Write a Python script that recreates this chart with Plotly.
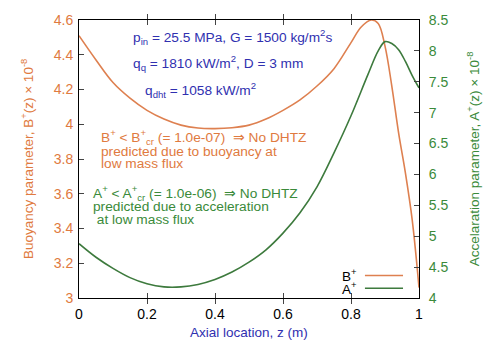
import plotly.graph_objects as go

# Data
z_b = [0, 0.05, 0.1, 0.15, 0.2, 0.25, 0.3, 0.35, 0.4, 0.45, 0.5, 0.55, 0.6, 0.65,
       0.7, 0.75, 0.8, 0.83, 0.86, 0.88, 0.9, 0.92, 0.94, 0.96, 0.98, 1.0]
b_plus = [4.51, 4.37, 4.24, 4.15, 4.08, 4.03, 3.995, 3.978, 3.975, 3.98, 3.995, 4.03,
          4.08, 4.14, 4.22, 4.32, 4.47, 4.56, 4.60, 4.58, 4.45, 4.22, 3.95, 3.72, 3.45, 3.06]

z_a = [0, 0.05, 0.1, 0.15, 0.2, 0.25, 0.3, 0.35, 0.4, 0.45, 0.5, 0.55, 0.6, 0.65,
       0.7, 0.75, 0.8, 0.85, 0.88, 0.9, 0.92, 0.94, 0.96, 0.98, 1.0]
a_plus = [4.88, 4.66, 4.48, 4.33, 4.23, 4.18, 4.18, 4.22, 4.30, 4.42, 4.58, 4.78, 5.05,
          5.38, 5.8, 6.35, 6.95, 7.62, 8.0, 8.15, 8.12, 8.02, 7.83, 7.6, 7.4]

x_ticks = [0, 0.2, 0.4, 0.6, 0.8, 1]
b_ticks = [3, 3.2, 3.4, 3.6, 3.8, 4, 4.2, 4.4, 4.6]
a_ticks = [4, 4.5, 5, 5.5, 6, 6.5, 7, 7.5, 8, 8.5]

ORANGE = "#e07a40"
GREEN = "#3a8a3a"
BLUE = "#3030b0"
FONT = "Liberation Sans, Arial, sans-serif"
FS = 13.7
TFS = 14

fig = go.Figure()
fig.add_trace(go.Scatter(x=z_b, y=b_plus, mode="lines", line=dict(color="#de8050", width=1.6, shape="spline"),
                         name="B+", showlegend=False))
fig.add_trace(go.Scatter(x=z_a, y=a_plus, mode="lines", yaxis="y2", line=dict(color="#3d7a3d", width=1.6, shape="spline"),
                         name="A+", showlegend=False))

annos = []
def txt(x, y, text, color, xanchor="left", size=FS):
    annos.append(dict(x=x, y=y, xref="x", yref="y", text=text, showarrow=False, xanchor=xanchor,
                      yanchor="middle", font=dict(color=color, size=size, family=FONT)))

def px2data(px, py):
    return (px - 79) / 340.0, 4.6 - (py - 14) / 177.5

# Blue parameter text
for (px, py, t) in [(131, 31, "p<sub>in</sub> = 25.5 MPa, G = 1500 kg/m<sup>2</sup>s"),
                    (131, 58, "q<sub>q</sub> = 1810 kW/m<sup>2</sup>, D = 3 mm"),
                    (143, 85, "q<sub>dht</sub> = 1058 kW/m<sup>2</sup>")]:
    x, y = px2data(px, py)
    txt(x, y, t, BLUE)

# Orange text
for (px, py, t) in [(99, 134, "B<sup>+</sup> < B<sup>+</sup><sub>cr</sub> (= 1.0e-07)  ⇒ No DHTZ"),
                    (99, 148, "predicted due to buoyancy at"),
                    (99, 161, "low mass flux")]:
    x, y = px2data(px, py)
    txt(x, y, t, ORANGE)

# Green text
for (px, py, t) in [(91, 191, "A<sup>+</sup> < A<sup>+</sup><sub>cr</sub> (= 1.0e-06)  ⇒ No DHTZ"),
                    (91, 205, "predicted due to acceleration"),
                    (91, 218, " at low mass flux")]:
    x, y = px2data(px, py)
    txt(x, y, t, GREEN)

# Legend texts
for (py, t) in [(275, "B<sup>+</sup>"), (288, "A<sup>+</sup>")]:
    x, y = px2data(359, py)
    txt(x, y, t, "black", xanchor="right", size=13.5)

# Axis titles
annos.append(dict(x=-0.185, y=0.5, xref="paper", yref="paper", textangle=-90, showarrow=False,
                  text="Buoyancy parameter, B<sup>+</sup>(z) × 10<sup>-8</sup>",
                  font=dict(color=ORANGE, size=13.5, family=FONT)))
annos.append(dict(x=1.192, y=0.5, xref="paper", yref="paper", textangle=-90, showarrow=False,
                  text="Accelaration parameter, A<sup>+</sup>(z) × 10<sup>-8</sup>",
                  font=dict(color=GREEN, size=13.5, family=FONT)))
annos.append(dict(x=0.5, y=-0.123, xref="paper", yref="paper", showarrow=False, yanchor="middle",
                  text="Axial location, z (m)", font=dict(color=BLUE, size=13.5, family=FONT)))

shapes = [
    dict(type="line", xref="paper", yref="paper", x0=0.841, x1=0.953, y0=(298 - 275) / 284, y1=(298 - 275) / 284,
         line=dict(color="#de8050", width=1.6)),
    dict(type="line", xref="paper", yref="paper", x0=0.841, x1=0.953, y0=(298 - 288) / 284, y1=(298 - 288) / 284,
         line=dict(color="#3d7a3d", width=1.6)),
]

fig.update_layout(
    width=485, height=344,
    margin=dict(l=79, r=66, t=14, b=46),
    paper_bgcolor="white", plot_bgcolor="white",
    font=dict(family=FONT, size=TFS, color="black"),
    xaxis=dict(range=[0, 1], tickvals=x_ticks, ticks="inside", ticklen=5, showline=True, linecolor="black",
               linewidth=1, mirror="allticks", showgrid=False, zeroline=False,
               tickfont=dict(color="black", size=TFS), ticklabelstandoff=3),
    yaxis=dict(range=[3, 4.6], tickvals=b_ticks, ticks="inside", ticklen=5, showline=True, linecolor="black",
               linewidth=1, showgrid=False, zeroline=False, tickfont=dict(color=ORANGE, size=TFS),
               ticklabelstandoff=2),
    yaxis2=dict(range=[4, 8.5], tickvals=a_ticks, ticks="inside", ticklen=5, showline=True, linecolor="black",
                linewidth=1, showgrid=False, zeroline=False, overlaying="y", side="right",
                tickfont=dict(color=GREEN, size=TFS), ticklabelstandoff=6),
    annotations=annos,
    shapes=shapes,
    showlegend=False,
)

fig.write_html("out.html")
